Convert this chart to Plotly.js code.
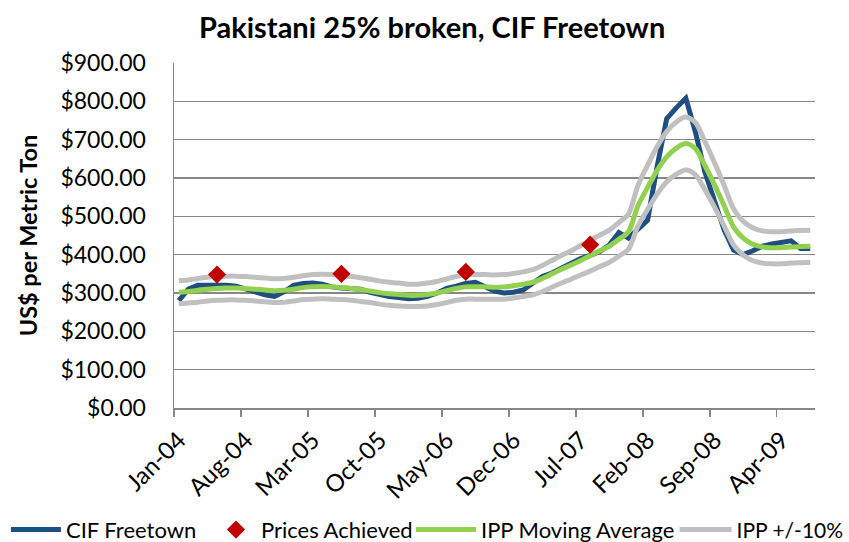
<!DOCTYPE html>
<html>
<head>
<meta charset="utf-8">
<script src="https://cdn.plot.ly/plotly-3.0.1.min.js"></script>
<style>html,body{margin:0;padding:0;background:#fff;}#chart{width:849px;height:542px;}</style>
</head>
<body>
<div id="chart"></div>
<script>
const months = ['Jan-04','Feb-04','Mar-04','Apr-04','May-04','Jun-04','Jul-04','Aug-04','Sep-04','Oct-04','Nov-04','Dec-04',
'Jan-05','Feb-05','Mar-05','Apr-05','May-05','Jun-05','Jul-05','Aug-05','Sep-05','Oct-05','Nov-05','Dec-05',
'Jan-06','Feb-06','Mar-06','Apr-06','May-06','Jun-06','Jul-06','Aug-06','Sep-06','Oct-06','Nov-06','Dec-06',
'Jan-07','Feb-07','Mar-07','Apr-07','May-07','Jun-07','Jul-07','Aug-07','Sep-07','Oct-07','Nov-07','Dec-07',
'Jan-08','Feb-08','Mar-08','Apr-08','May-08','Jun-08','Jul-08','Aug-08','Sep-08','Oct-08','Nov-08','Dec-08',
'Jan-09','Feb-09','Mar-09','Apr-09','May-09','Jun-09','Jul-09'];

const tickLabels = ['Jan-04','Aug-04','Mar-05','Oct-05','May-06','Dec-06','Jul-07','Feb-08','Sep-08','Apr-09'];

const cifFreetown = [280,310,320,321,321,320,318,312,303,295,291,303,320,325,326,323,316,313,313,310,
302,296,291,288,285,286,291,300,312,318,325,328,318,305,300,302,308,325,343,352,
364,378,390,398,408,425,458,443,465,490,630,755,783,808,720,615,540,465,412,400,
410,422,428,432,436,416,416];

const ippMovingAverage = [302,304,307,310,312,313,313,312,310,308,306,307,310,314,316,317,316,314,312,309,
305,301,298,296,294,294,296,300,306,312,316,316,316,315,316,319,323,328,338,350,
362,373,385,397,410,422,440,460,528,575,620,655,678,690,677,632,582,528,472,443,
427,420,418,418,420,421,422];

const ippUpper = [332,334,338,341,343,344,344,343,341,339,337,338,341,345,348,349,348,345,343,340,
336,331,328,326,323,323,326,330,337,343,348,348,348,347,348,351,355,361,372,385,
398,410,424,437,451,464,484,506,581,633,682,721,746,759,745,695,640,581,519,487,
470,462,460,460,462,463,464];

const ippLower = [272,274,276,279,281,282,282,281,279,277,275,276,279,283,284,285,284,283,281,278,
275,271,268,266,265,265,266,270,275,281,284,284,284,284,284,287,291,295,304,315,
326,336,347,357,369,380,396,414,475,518,558,590,610,621,609,569,524,475,425,399,
384,378,376,376,378,379,380];

const achievedMonths = ['May-04','Jun-05','Jul-06','Aug-07'];
const achievedPrices = [348,350,355,426];

// positions along the monthly category scale (index of each month)
const xIdx = months.map((m, i) => i);
const achievedIdx = achievedMonths.map(m => months.indexOf(m));
const labelIdx = tickLabels.map(m => months.indexOf(m));
const boundaryIdx = labelIdx.map(i => i - 0.5);

const FONT = 'Lato, "Open Sans", sans-serif';
const GRAY = '#C0C0C0';
const AXC = '#878787';

const traces = [
  {x: xIdx, y: cifFreetown, type: 'scatter', mode: 'lines', name: 'CIF Freetown',
   line: {color: '#1F4E80', width: 5}, legend: 'legend'},
  {x: xIdx, y: ippMovingAverage, type: 'scatter', mode: 'lines', name: 'IPP Moving Average',
   line: {color: '#92D050', width: 5, shape: 'spline', smoothing: 0.8}, legend: 'legend3'},
  {x: xIdx, y: ippUpper, type: 'scatter', mode: 'lines', name: 'IPP +/-10%', legendgroup: 'ipp',
   line: {color: GRAY, width: 5, shape: 'spline', smoothing: 0.8}, legend: 'legend4'},
  {x: xIdx, y: ippLower, type: 'scatter', mode: 'lines', name: 'IPP +/-10%', legendgroup: 'ipp', showlegend: false,
   line: {color: GRAY, width: 5, shape: 'spline', smoothing: 0.8}, legend: 'legend4'},
  {x: achievedIdx, y: achievedPrices, type: 'scatter', mode: 'markers', name: 'Prices Achieved',
   marker: {symbol: 'diamond', size: 14, color: '#C00000'}, legend: 'legend2'}
];

const legendBase = {orientation: 'h', xref: 'container', yref: 'container', xanchor: 'left',
  y: 0.0225, yanchor: 'middle', font: {family: FONT, size: 22, color: '#000'}, bgcolor: 'rgba(0,0,0,0)'};

const layout = {
  width: 849, height: 542,
  margin: {l: 174, r: 34, t: 63, b: 134, autoexpand: false},
  paper_bgcolor: '#fff', plot_bgcolor: '#fff',
  font: {family: FONT, color: '#000', size: 22},
  showlegend: true,
  title: {text: '<b>Pakistani 25% broken, CIF Freetown</b>', font: {family: FONT, size: 29, color: '#000'},
          x: 0.509, xref: 'container', xanchor: 'center', y: 0.948, yref: 'container', yanchor: 'middle'},
  xaxis: {type: 'linear', range: [-0.5, 66.5], tickmode: 'array', tickvals: labelIdx, ticktext: tickLabels,
          tickangle: -45, ticks: 'outside', ticklen: 7, tickcolor: 'rgba(0,0,0,0)',
          minor: {tickmode: 'array', tickvals: boundaryIdx, ticks: 'outside', ticklen: 7, tickwidth: 1.5,
                  tickcolor: AXC, showgrid: false},
          showline: true, linecolor: AXC, linewidth: 1.5, showgrid: false, zeroline: false,
          tickfont: {family: FONT, size: 24, color: '#000'}, fixedrange: true},
  yaxis: {range: [0, 900], dtick: 100, tick0: 0, tickprefix: '$', tickformat: ',.2f',
          ticks: 'outside', ticklen: 22, tickwidth: 1.5, tickcolor: 'rgba(0,0,0,0)',
          showline: true, linecolor: AXC, linewidth: 1.5,
          showgrid: true, gridcolor: AXC, gridwidth: 1.5, zeroline: false,
          tickfont: {family: FONT, size: 23, color: '#000'},
          title: {text: '<b>US$ per Metric Ton</b>', font: {family: FONT, size: 23.5, color: '#000'}, standoff: 16},
          fixedrange: true},
  yaxis2: {overlaying: 'y', side: 'left', anchor: 'x', range: [0, 900], dtick: 100, tick0: 0,
           ticks: 'outside', ticklen: 8, tickwidth: 1.5, tickcolor: AXC, showticklabels: false,
           showgrid: false, zeroline: false, showline: false, fixedrange: true},
  legend: Object.assign({}, legendBase, {x: 0.007, itemwidth: 50}),
  legend2: Object.assign({}, legendBase, {x: 0.2485, itemwidth: 40}),
  legend3: Object.assign({}, legendBase, {x: 0.4841, itemwidth: 60}),
  legend4: Object.assign({}, legendBase, {x: 0.7945, itemwidth: 52, font: {family: FONT, size: 21, color: '#000'}})
};

Plotly.newPlot('chart', traces, layout, {displayModeBar: false, staticPlot: true});
</script>
</body>
</html>
